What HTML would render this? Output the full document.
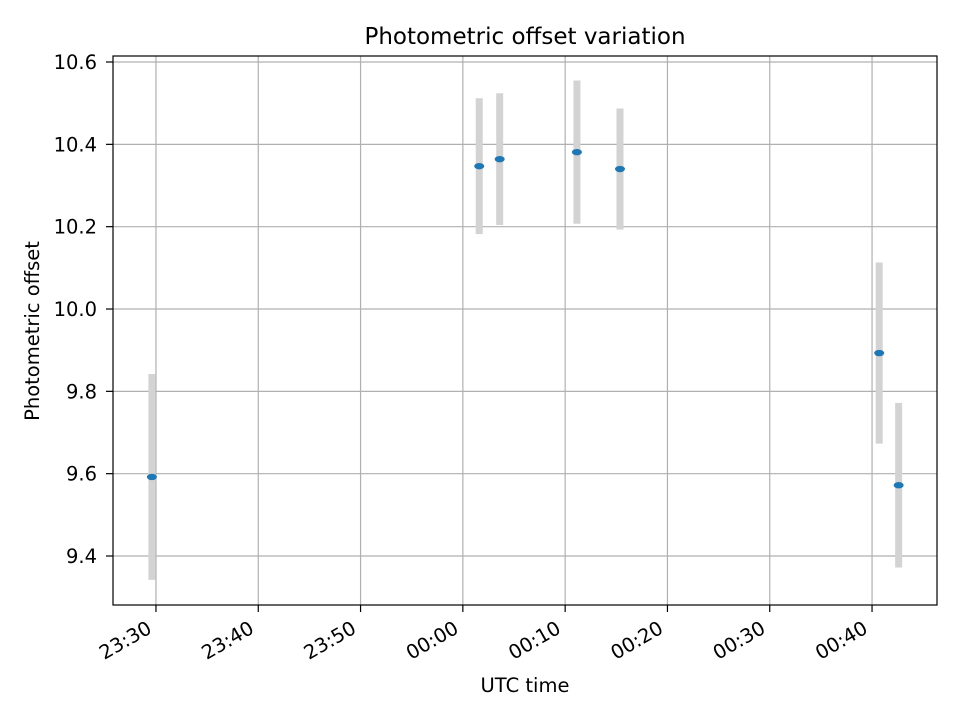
<!DOCTYPE html>
<html><head><meta charset="utf-8"><style>
body{margin:0;background:#fff;font-family:"Liberation Sans","DejaVu Sans",sans-serif}
svg text{font-family:"DejaVu Sans","Liberation Sans",sans-serif}
</style></head><body>
<svg id="chart" width="960" height="720" viewBox="0 0 960 720" xmlns="http://www.w3.org/2000/svg">
<rect width="960" height="720" fill="#fff"/>
<g id="grid"></g>
<g id="marks"></g>
<rect x="113" y="56" width="824" height="549" fill="none" stroke="#000" stroke-width="1.2"/>
<g id="axes"></g>
<text x="525" y="44" text-anchor="middle" font-size="23">Photometric offset variation</text>
<text x="525" y="692" text-anchor="middle" font-size="19.5">UTC time</text>
<text transform="translate(39,331) rotate(-90)" text-anchor="middle" font-size="19.5">Photometric offset</text>
</svg>
<script>
// minutes relative to 23:30 UTC
const times = [-0.4, 31.6, 33.6, 41.15, 45.36, 70.7, 72.6];
const offsets = [9.592, 10.347, 10.364, 10.381, 10.34, 9.893, 9.572];
const errors = [0.25, 0.165, 0.16, 0.174, 0.147, 0.22, 0.2];
const xTicks = [0, 10, 20, 30, 40, 50, 60, 70];
const xTickLabels = ["23:30","23:40","23:50","00:00","00:10","00:20","00:30","00:40"];
const yTicks = [9.4, 9.6, 9.8, 10.0, 10.2, 10.4, 10.6];
const yTickLabels = ["9.4","9.6","9.8","10.0","10.2","10.4","10.6"];

const L=113,R=937,T=56,B=605;
const xMin=-4.2,xMax=76.35,yMin=9.281,yMax=10.6146;
const xs=v=>L+(v-xMin)/(xMax-xMin)*(R-L);
const ys=v=>B-(v-yMin)/(yMax-yMin)*(B-T);
const NS="http://www.w3.org/2000/svg";
function mk(tag,attrs,parent){const e=document.createElementNS(NS,tag);for(const k in attrs)e.setAttribute(k,attrs[k]);parent.appendChild(e);return e;}
const grid=document.getElementById('grid'),axes=document.getElementById('axes'),marks=document.getElementById('marks');
xTicks.forEach((t,i)=>{
  const x=xs(t);
  const g=mk('line',{x1:x,x2:x,y1:T,y2:B,stroke:'#b0b0b0','stroke-width':1.2},grid);
  
  const tk=mk('line',{x1:x,x2:x,y1:B,y2:B+7,stroke:'#000','stroke-width':1.2},axes);
  
  const ax=x-3, ay=B+27;
  const tx=mk('text',{x:ax,y:ay,'text-anchor':'end','font-size':19.5,transform:`rotate(-30 ${ax} ${ay})`},axes);
  tx.textContent=xTickLabels[i];
  
});
yTicks.forEach((t,i)=>{
  const y=ys(t);
  const g=mk('line',{x1:L,x2:R,y1:y,y2:y,stroke:'#b0b0b0','stroke-width':1.2},grid);
  
  const tk=mk('line',{x1:L-7,x2:L,y1:y,y2:y,stroke:'#000','stroke-width':1.2},axes);
  
  const tx=mk('text',{x:L-16,y:y+7,'text-anchor':'end','font-size':19.5},axes);
  tx.textContent=yTickLabels[i];
  
});
times.forEach((t,i)=>{
  const x=xs(t);
  const eb=mk('line',{x1:x,x2:x,y1:ys(offsets[i]+errors[i]),y2:ys(offsets[i]-errors[i]),stroke:'#d3d3d3','stroke-width':7},marks);
  
});
times.forEach((t,i)=>{
  const p=mk('ellipse',{cx:xs(t),cy:ys(offsets[i]),rx:5,ry:3.2,fill:'#1f77b4'},marks);
  
});
</script>
</body></html>
